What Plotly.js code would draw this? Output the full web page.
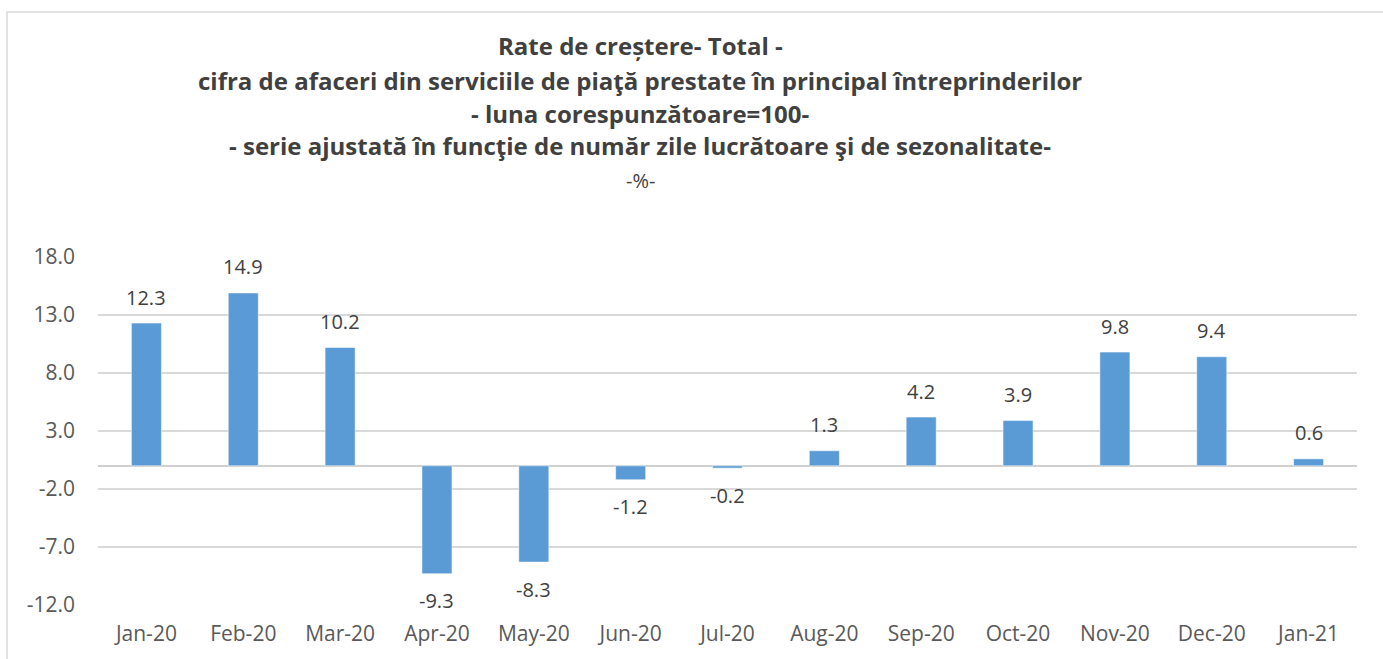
<!DOCTYPE html>
<html>
<head>
<meta charset="utf-8">
<script src="https://cdn.plot.ly/plotly-3.0.1.min.js"></script>
<style>html,body{margin:0;padding:0;background:#fff;}#chart{width:1383px;height:659px;}</style>
</head>
<body>
<div id="chart"></div>
<script>
const categories = ["Jan-20","Feb-20","Mar-20","Apr-20","May-20","Jun-20","Jul-20","Aug-20","Sep-20","Oct-20","Nov-20","Dec-20","Jan-21"];
const values = [12.3, 14.9, 10.2, -9.3, -8.3, -1.2, -0.2, 1.3, 4.2, 3.9, 9.8, 9.4, 0.6];
const titleLines = [
  "Rate de creștere- Total -",
  "cifra de afaceri din serviciile de piaţă prestate în principal întreprinderilor",
  "- luna corespunzătoare=100-",
  "- serie ajustată în funcţie de număr zile lucrătoare şi de sezonalitate-",
  "-%-"
];
const yTicks = [-12, -7, -2, 3, 8, 13, 18];

const FONT = "'Open Sans', sans-serif";
const plotH = 348, plotTopPx = 257;
const titleYpx = [45, 80, 113, 146, 180];

const annotations = [];
titleLines.forEach((t, i) => {
  annotations.push({
    xref: 'paper', yref: 'paper',
    x: (640 - 98) / 1259,
    y: 1 + (plotTopPx - titleYpx[i]) / plotH,
    xanchor: 'center', yanchor: 'middle',
    text: i < 4 ? '<b>' + t + '</b>' : t,
    showarrow: false,
    font: {family: FONT, size: i < 4 ? 24 : 20, color: '#404040'}
  });
});
categories.forEach((c, i) => {
  const v = values[i];
  annotations.push({
    x: c, y: v, xref: 'x', yref: 'y',
    text: v.toFixed(1),
    showarrow: false,
    yanchor: 'middle',
    yshift: v >= 0 ? 26 : -27,
    font: {family: FONT, size: 20, color: '#404040'}
  });
});

const data = [{
  type: 'bar',
  x: categories,
  y: values,
  marker: {color: '#5B9BD5', line: {color: '#ffffff', width: 0.5}},
  hoverinfo: 'x+y'
}];

const layout = {
  width: 1383, height: 659,
  margin: {l: 98, r: 26, t: 257, b: 54},
  paper_bgcolor: '#ffffff', plot_bgcolor: '#ffffff',
  showlegend: false,
  bargap: 0.69,
  font: {family: FONT, color: '#595959'},
  xaxis: {
    type: 'category',
    showgrid: false, showline: false, ticks: '',
    tickfont: {family: FONT, size: 21, color: '#595959'},
    ticklabelstandoff: 14,
    automargin: false
  },
  yaxis: {
    range: [-12, 18],
    tickvals: yTicks,
    ticktext: yTicks.map(v => v.toFixed(1)),
    showgrid: true, gridcolor: '#d9d9d9', gridwidth: 1.5,
    zeroline: true, zerolinecolor: '#d0d0d0', zerolinewidth: 2,
    showline: false, ticks: '',
    ticklabelstandoff: 22,
    tickfont: {family: FONT, size: 21, color: '#595959'},
    automargin: false
  },
  shapes: [{
    type: 'rect', xref: 'paper', yref: 'paper',
    x0: (7 - 98) / 1259, x1: (1395 - 98) / 1259,
    y0: (605 - 670) / plotH, y1: (605 - 12) / plotH,
    line: {color: '#d9d9d9', width: 1.5}, fillcolor: 'rgba(0,0,0,0)', layer: 'below'
  }],
  annotations: annotations
};

Plotly.newPlot('chart', data, layout, {displayModeBar: false, staticPlot: true});
</script>
</body>
</html>
